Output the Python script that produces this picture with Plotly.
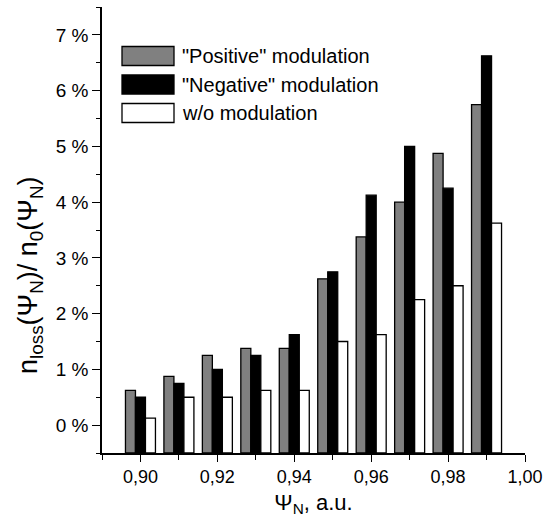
import plotly.graph_objects as go

psi = [0.90, 0.91, 0.92, 0.93, 0.94, 0.95, 0.96, 0.97, 0.98, 0.99]
positive = [0.625, 0.875, 1.25, 1.375, 1.375, 2.625, 3.375, 4.0, 4.875, 5.75]
negative = [0.5, 0.75, 1.0, 1.25, 1.625, 2.75, 4.125, 5.0, 4.25, 6.625]
without = [0.125, 0.5, 0.5, 0.625, 0.625, 1.5, 1.625, 2.25, 2.5, 3.625]
names = ['"Positive" modulation', '"Negative" modulation', 'w/o modulation']
colors = ["#808080", "#000000", "#ffffff"]
x_ticks = [0.90, 0.92, 0.94, 0.96, 0.98, 1.00]
x_ticktext = ["0,90", "0,92", "0,94", "0,96", "0,98", "1,00"]
y_ticks = [0, 1, 2, 3, 4, 5, 6, 7]
y_ticktext = ["0 %", "1 %", "2 %", "3 %", "4 %", "5 %", "6 %", "7 %"]
base = -0.5

FONT = "Liberation Sans, Arial, sans-serif"

fig = go.Figure()
for name, vals, col in zip(names, [positive, negative, without], colors):
    fig.add_trace(go.Bar(
        x=psi, y=[v - base for v in vals], base=base, name=name,
        marker=dict(color=col, line=dict(color="black", width=1.3)),
        showlegend=False,
    ))

# custom legend (large swatches)
leg_y = [56, 84.5, 113]
for name, col, yc in zip(names, colors, leg_y):
    fig.add_shape(type="rect", xref="paper", yref="paper",
                  x0=(122 - 102) / 423, x1=(174 - 102) / 423,
                  y0=(453 - (yc + 9.5)) / 446, y1=(453 - (yc - 9.5)) / 446,
                  fillcolor=col, line=dict(color="black", width=1.3))
    fig.add_annotation(xref="paper", yref="paper",
                       x=(180 - 102) / 423, y=(453 - yc) / 446,
                       text=name, showarrow=False, xanchor="left", yanchor="middle",
                       font=dict(family=FONT, size=20, color="black"))

# y-axis title (placed as in the reference, slightly below the axis centre)
fig.add_annotation(xref="paper", yref="paper",
                   x=(30 - 102) / 423, y=(453 - 275) / 446,
                   text="n<sub>loss</sub>(Ψ<sub>N</sub>)/ n<sub>0</sub>(Ψ<sub>N</sub>)",
                   textangle=-90, showarrow=False, xanchor="center", yanchor="middle",
                   font=dict(family=FONT, size=27, color="black"))

fig.update_layout(
    width=552, height=527,
    margin=dict(l=102, r=27, t=7, b=74),
    paper_bgcolor="white", plot_bgcolor="white",
    barmode="group", bargap=0.22, bargroupgap=0,
    font=dict(family=FONT, size=18, color="black"),
    xaxis=dict(
        range=[0.89, 1.00], tickvals=x_ticks, ticktext=x_ticktext,
        ticks="outside", ticklen=7, tickwidth=1.3, tickcolor="black",
        minor=dict(dtick=0.01, tick0=0.89, ticks="outside", ticklen=5, tickwidth=1.3, tickcolor="black"),
        showline=True, linecolor="black", linewidth=1.5, showgrid=False, zeroline=False,
        title=dict(text="Ψ<sub>N</sub>, a.u.", font=dict(size=22), standoff=8),
    ),
    yaxis=dict(
        range=[-0.5, 7.5], tickvals=y_ticks, ticktext=y_ticktext,
        ticks="outside", ticklen=8, tickwidth=1.3, tickcolor="black",
        tickfont=dict(size=19),
        minor=dict(dtick=0.5, tick0=-0.5, ticks="outside", ticklen=4, tickwidth=1.3, tickcolor="black"),
        showline=True, linecolor="black", linewidth=1.5, showgrid=False, zeroline=False,
    ),
)

fig.write_html("out.html")
